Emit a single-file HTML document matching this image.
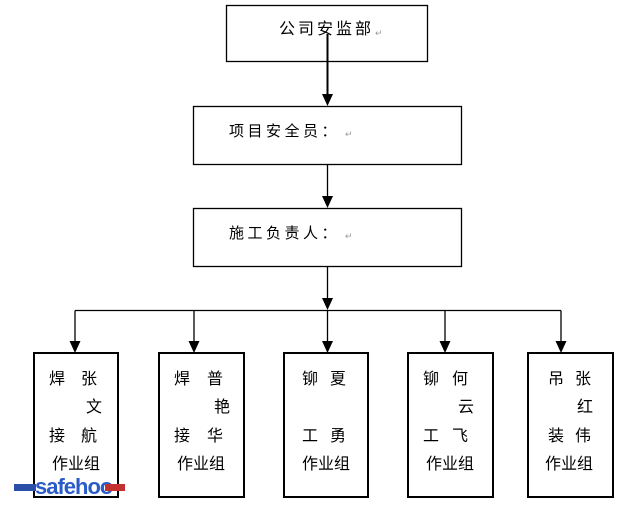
<!DOCTYPE html>
<html><head><meta charset="utf-8"><style>
html,body{margin:0;padding:0;background:#fff;}
svg{display:block;}
text{font-family:"Liberation Sans","Noto Sans CJK SC","WenQuanYi Zen Hei",sans-serif;fill:#000;}
.t{font-size:16px;}
.r{font-size:9px;fill:#999;}
</style></head><body>
<svg width="629" height="505" viewBox="0 0 629 505" xmlns="http://www.w3.org/2000/svg">
<g fill="none" stroke="#000" stroke-width="1.3">
<rect x="226.5" y="5.5" width="201" height="56"/>
<rect x="193.5" y="106.5" width="268" height="58"/>
<rect x="193.5" y="208.5" width="268" height="58"/>
<rect x="34" y="353" width="84" height="144" stroke-width="2"/>
<rect x="159" y="353" width="85" height="144" stroke-width="2"/>
<rect x="284" y="353" width="84" height="144" stroke-width="2"/>
<rect x="408" y="353" width="85" height="144" stroke-width="2"/>
<rect x="528" y="353" width="85" height="144" stroke-width="2"/>
<line x1="327.5" y1="34" x2="327.5" y2="96" stroke-width="2"/>
<line x1="327.5" y1="164" x2="327.5" y2="198"/>
<line x1="327.5" y1="266" x2="327.5" y2="300"/>
<line x1="75" y1="310.5" x2="561" y2="310.5"/>
<line x1="75" y1="310.5" x2="75" y2="343"/>
<line x1="194" y1="310.5" x2="194" y2="343"/>
<line x1="327.5" y1="310.5" x2="327.5" y2="343"/>
<line x1="445" y1="310.5" x2="445" y2="343"/>
<line x1="561" y1="310.5" x2="561" y2="343"/>
</g>
<g fill="#000">
<polygon points="322,94 333,94 327.5,106"/>
<polygon points="322,196 333,196 327.5,208"/>
<polygon points="322,298 333,298 327.5,310"/>
<polygon points="69.5,341 80.5,341 75,353"/>
<polygon points="188.5,341 199.5,341 194,353"/>
<polygon points="322,341 333,341 327.5,353"/>
<polygon points="439.5,341 450.5,341 445,353"/>
<polygon points="555.5,341 566.5,341 561,353"/>
</g>
<text class="t" x="279" y="34" style="letter-spacing:3px">公司安监部</text><text class="r" x="375" y="36">↵</text>
<text class="t" x="229" y="136" style="font-size:15px;letter-spacing:3.5px">项目安全员：</text><text class="r" x="345" y="137">↵</text>
<text class="t" x="229" y="238" style="font-size:15px;letter-spacing:3.5px">施工负责人：</text><text class="r" x="345" y="239">↵</text>

<text class="t" x="49" y="384">焊</text><text class="t" x="81" y="384">张</text>
<text class="t" x="86" y="412">文</text>
<text class="t" x="49" y="441">接</text><text class="t" x="81" y="441">航</text>
<text class="t" x="52" y="469">作业组</text>

<text class="t" x="174" y="384">焊</text><text class="t" x="207" y="384">普</text>
<text class="t" x="214" y="412">艳</text>
<text class="t" x="174" y="441">接</text><text class="t" x="207" y="441">华</text>
<text class="t" x="177" y="469">作业组</text>

<text class="t" x="302" y="384">铆</text><text class="t" x="330" y="384">夏</text>
<text class="t" x="302" y="441">工</text><text class="t" x="330" y="441">勇</text>
<text class="t" x="302" y="469">作业组</text>

<text class="t" x="423" y="384">铆</text><text class="t" x="452" y="384">何</text>
<text class="t" x="458" y="412">云</text>
<text class="t" x="423" y="441">工</text><text class="t" x="452" y="441">飞</text>
<text class="t" x="426" y="469">作业组</text>

<text class="t" x="548" y="384">吊</text><text class="t" x="575" y="384">张</text>
<text class="t" x="577" y="412">红</text>
<text class="t" x="548" y="441">装</text><text class="t" x="575" y="441">伟</text>
<text class="t" x="545" y="469">作业组</text>

<rect x="14" y="484" width="22" height="7" fill="#2a4fa8"/>
<text x="35" y="494" style="font-size:22px;font-weight:bold;fill:#2a5cc8;letter-spacing:-1px">safehoo</text>
<rect x="105" y="484" width="20" height="7" fill="#c23030"/>
</svg>
</body></html>
